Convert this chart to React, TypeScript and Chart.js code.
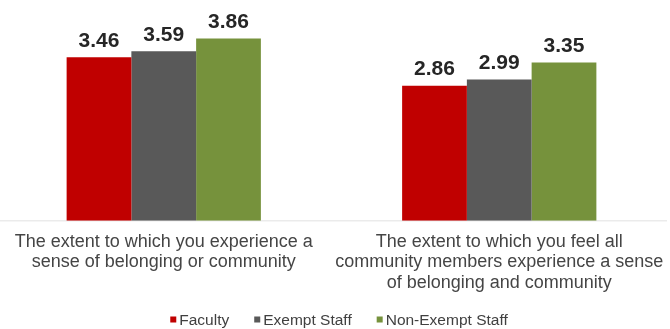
import React, { useEffect, useRef } from 'react';
import { Chart, registerables } from 'chart.js';

Chart.register(...registerables);

const categories: string[][] = [
  ['The extent to which you experience a', 'sense of belonging or community'],
  ['The extent to which you feel all', 'community members experience a sense', 'of belonging and community'],
];
const seriesNames = ['Faculty', 'Exempt Staff', 'Non-Exempt Staff'];
const faculty = [3.46, 2.86];
const exemptStaff = [3.59, 2.99];
const nonExemptStaff = [3.86, 3.35];
const seriesColors = ['#C00000', '#595959', '#76923C'];

const FONT = '"Liberation Sans", Arial, Helvetica, sans-serif';

const valueLabels = {
  id: 'valueLabels',
  afterDatasetsDraw(chart: any) {
    const ctx = chart.ctx;
    ctx.save();
    ctx.font = `bold 21px ${FONT}`;
    ctx.fillStyle = '#262626';
    ctx.textAlign = 'center';
    ctx.textBaseline = 'alphabetic';
    chart.data.datasets.forEach((ds: any, i: number) => {
      chart.getDatasetMeta(i).data.forEach((el: any, j: number) => {
        ctx.fillText(Number(ds.data[j]).toFixed(2), el.x, el.y - 10.5);
      });
    });
    ctx.restore();
  },
};

const bottomLegend = {
  id: 'bottomLegend',
  afterDraw(chart: any) {
    const ctx = chart.ctx;
    ctx.save();
    ctx.font = `15.5px ${FONT}`;
    const box = 6;
    const gap = 3;
    const itemGap = 25;
    const items = chart.data.datasets.map((ds: any) => ({
      text: ds.label,
      color: ds.backgroundColor,
      w: ctx.measureText(ds.label).width,
    }));
    const total =
      items.reduce((s: number, it: any) => s + box + gap + it.w, 0) + itemGap * (items.length - 1);
    let x = chart.width / 2 + 7.5 - total / 2;
    const y = 319.5;
    ctx.textBaseline = 'middle';
    ctx.textAlign = 'left';
    items.forEach((it: any) => {
      ctx.fillStyle = it.color;
      ctx.fillRect(x, y - box / 2, box, box);
      x += box + gap;
      ctx.fillStyle = '#404040';
      ctx.fillText(it.text, x, y + 1);
      x += it.w + itemGap;
    });
    ctx.restore();
  },
};

export default function App() {
  const ref = useRef<HTMLCanvasElement | null>(null);

  useEffect(() => {
    if (!ref.current) return;
    const chart = new Chart(ref.current, {
      type: 'bar',
      data: {
        labels: categories as any,
        datasets: [
          { label: seriesNames[0], data: faculty, backgroundColor: seriesColors[0] },
          { label: seriesNames[1], data: exemptStaff, backgroundColor: seriesColors[1] },
          { label: seriesNames[2], data: nonExemptStaff, backgroundColor: seriesColors[2] },
        ],
      },
      options: {
        responsive: false,
        animation: false,
        devicePixelRatio: 1,
        datasets: {
          bar: { barPercentage: 1, categoryPercentage: 0.579 },
        },
        layout: { padding: { top: 8.3, bottom: 24.8, left: 0, right: 0 } },
        plugins: {
          legend: { display: false },
          tooltip: { enabled: false },
        },
        scales: {
          x: {
            grid: { display: false, drawTicks: false },
            border: { display: true, color: '#ebebeb', width: 1.5 },
            ticks: {
              autoSkip: false,
              maxRotation: 0,
              minRotation: 0,
              padding: 11,
              color: '#454545',
              font: { family: FONT, size: 18, lineHeight: 1.14 },
            },
            afterFit: (scale: any) => {
              scale.paddingLeft = 0;
              scale.paddingRight = 0;
            },
          },
          y: { display: false, min: 0, max: 4.5 },
        },
      },
      plugins: [valueLabels, bottomLegend],
    });
    return () => chart.destroy();
  }, []);

  return (
    <canvas
      ref={ref}
      width={671}
      height={329}
      style={{ position: 'absolute', left: -4, top: 0, width: 671, height: 329, display: 'block' }}
    />
  );
}
